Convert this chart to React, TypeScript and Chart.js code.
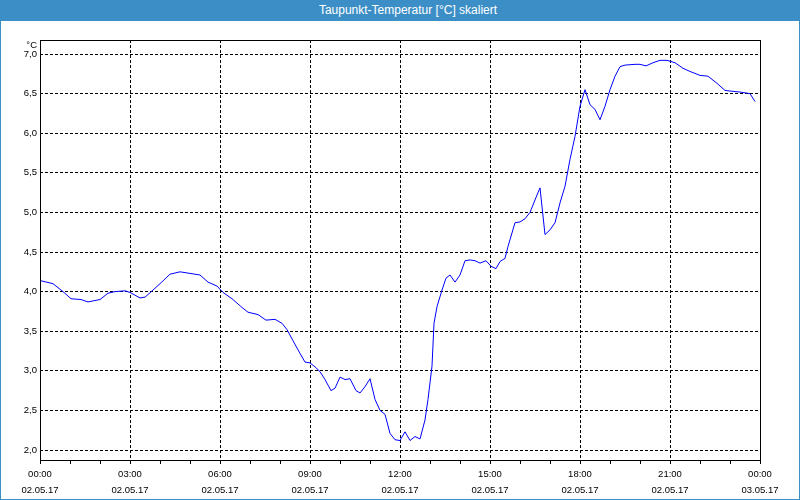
import React, { useEffect, useRef } from 'react';
import { Chart, registerables } from 'chart.js';

Chart.register(...registerables);

const TITLE = 'Taupunkt-Temperatur [°C] skaliert';
const UNIT = '°C';

// minutes since 02.05.17 00:00
const minutes = [
  0, 26, 46, 62, 82, 96, 120, 136, 150, 170, 180, 200, 210, 226, 240, 260, 280, 300, 320, 336,
  354, 366, 384, 404, 416, 436, 452, 470, 484, 494, 506, 520, 530, 540, 550, 560, 570, 582, 590, 600,
  610, 620, 632, 640, 650, 660, 670, 680, 690, 700, 710, 720, 730, 740, 750, 760, 770, 776, 784, 788,
  794, 804, 812, 820, 830, 840, 850, 860, 870, 880, 892, 902, 912, 920, 930, 936, 950, 960, 970, 980,
  994, 1000, 1010, 1020, 1030, 1040, 1050, 1060, 1070, 1080, 1090, 1100, 1110, 1120, 1130, 1140, 1150, 1160, 1170, 1190,
  1200, 1212, 1226, 1240, 1254, 1270, 1286, 1300, 1320, 1336, 1354, 1370, 1384, 1400, 1420, 1430,
];

const dewPoint = [
  4.14, 4.10, 4.00, 3.91, 3.90, 3.87, 3.90, 3.98, 4.00, 4.01, 3.99, 3.92, 3.93, 4.02, 4.10, 4.22, 4.25, 4.23, 4.21, 4.12,
  4.07, 3.99, 3.91, 3.80, 3.74, 3.71, 3.64, 3.65, 3.60, 3.52, 3.38, 3.22, 3.11, 3.10, 3.05, 2.99, 2.89, 2.75, 2.78, 2.92,
  2.89, 2.90, 2.75, 2.72, 2.80, 2.90, 2.64, 2.50, 2.45, 2.21, 2.13, 2.12, 2.23, 2.12, 2.17, 2.14, 2.38, 2.64, 3.06, 3.60,
  3.81, 4.02, 4.17, 4.21, 4.12, 4.21, 4.39, 4.40, 4.39, 4.36, 4.39, 4.32, 4.29, 4.38, 4.42, 4.57, 4.87, 4.88, 4.92, 5.00,
  5.22, 5.31, 4.72, 4.78, 4.87, 5.12, 5.33, 5.67, 5.96, 6.34, 6.55, 6.36, 6.30, 6.17, 6.34, 6.55, 6.72, 6.84, 6.86, 6.87,
  6.87, 6.85, 6.89, 6.92, 6.92, 6.89, 6.82, 6.78, 6.73, 6.72, 6.63, 6.54, 6.53, 6.52, 6.50, 6.40,
];

const yTicks = [2.0, 2.5, 3.0, 3.5, 4.0, 4.5, 5.0, 5.5, 6.0, 6.5, 7.0];
const hourTicks = [
  0, 60, 120, 180, 240, 300, 360, 420, 480, 540, 600, 660, 720,
  780, 840, 900, 960, 1020, 1080, 1140, 1200, 1260, 1320, 1380, 1440,
];
const xLabelMinutes = [0, 180, 360, 540, 720, 900, 1080, 1260, 1440];
const xLabelTimes = ['00:00', '03:00', '06:00', '09:00', '12:00', '15:00', '18:00', '21:00', '00:00'];
const xLabelDates = ['02.05.17', '02.05.17', '02.05.17', '02.05.17', '02.05.17', '02.05.17', '02.05.17', '02.05.17', '03.05.17'];

const Y_MIN = 1.874;
const Y_MAX = 7.177;
const FONT_FAMILY = '"Liberation Sans", Arial, sans-serif';
const BLUE = '#3c8fc6';

export default function App() {
  const canvasRef = useRef<HTMLCanvasElement>(null);

  useEffect(() => {
    document.body.style.margin = '0';
    const canvas = canvasRef.current;
    if (!canvas) return;

    const framePlugin = {
      id: 'frame',
      beforeDraw(chart: any) {
        const ctx = chart.ctx;
        ctx.save();
        ctx.fillStyle = '#ffffff';
        ctx.fillRect(0, 0, chart.width, chart.height);
        ctx.restore();
      },
      afterDraw(chart: any) {
        const { ctx, chartArea: a } = chart;
        ctx.save();
        ctx.fillStyle = '#000000';
        const l = Math.round(a.left);
        const t = Math.round(a.top);
        const r = Math.round(a.right);
        const b = Math.round(a.bottom);
        ctx.fillRect(l, t, r - l + 1, 1);
        ctx.fillRect(l, b, r - l + 1, 1);
        ctx.fillRect(l, t, 1, b - t + 1);
        ctx.fillRect(r, t, 1, b - t + 1);
        ctx.font = '9.5px ' + FONT_FAMILY;
        ctx.textAlign = 'right';
        ctx.textBaseline = 'middle';
        ctx.fillText(UNIT, l - 3, t + 5);
        ctx.fillStyle = BLUE;
        ctx.fillRect(0, 0, 1, chart.height);
        ctx.fillRect(chart.width - 1, 0, 1, chart.height);
        ctx.fillRect(0, chart.height - 1, chart.width, 1);
        ctx.restore();
      },
    };

    const chart = new Chart(canvas, {
      type: 'line',
      data: {
        datasets: [
          {
            data: minutes.map((m, i) => ({ x: m, y: dewPoint[i] })),
            borderColor: '#0000ff',
            borderWidth: 1,
            pointRadius: 0,
            tension: 0,
            fill: false,
          },
        ],
      },
      options: {
        animation: false,
        responsive: false,
        layout: { padding: { top: 40, right: 40, left: 0, bottom: 0 } },
        plugins: { legend: { display: false }, tooltip: { enabled: false }, title: { display: false } },
        scales: {
          x: {
            type: 'linear',
            min: 0,
            max: 1440,
            afterBuildTicks: (s: any) => {
              s.ticks = hourTicks.map((v) => ({ value: v }));
            },
            afterFit: (s: any) => {
              s.height = 40;
            },
            grid: {
              color: (c: any) =>
                c.tick && c.tick.value % 180 === 0 && c.tick.value > 0 && c.tick.value < 1440
                  ? '#000000'
                  : 'rgba(0,0,0,0)',
              tickColor: '#000000',
              tickLength: 4,
              tickBorderDash: [],
              lineWidth: 1,
            },
            border: { display: false, dash: [3, 2] },
            ticks: {
              autoSkip: false,
              maxRotation: 0,
              padding: 2.5,
              color: '#000000',
              font: { family: FONT_FAMILY, size: 9.5, lineHeight: 1.65 },
              callback: (v: any) => {
                const i = xLabelMinutes.indexOf(Number(v));
                return i < 0 ? '' : [xLabelTimes[i], xLabelDates[i]];
              },
            },
          },
          y: {
            min: Y_MIN,
            max: Y_MAX,
            afterBuildTicks: (s: any) => {
              s.ticks = yTicks.map((v) => ({ value: v }));
            },
            afterFit: (s: any) => {
              s.width = 40;
            },
            grid: { color: '#000000', drawTicks: false, tickLength: 0, lineWidth: 1 },
            border: { display: false, dash: [3, 2] },
            ticks: {
              padding: 3,
              color: '#000000',
              font: { family: FONT_FAMILY, size: 9.5 },
              callback: (v: any) => Number(v).toFixed(1).replace('.', ','),
            },
          },
        },
      },
      plugins: [framePlugin],
    } as any);

    return () => chart.destroy();
  }, []);

  return (
    <div style={{ position: 'fixed', left: 0, top: 0, width: 800, height: 500, background: '#ffffff' }}>
      <canvas ref={canvasRef} width={800} height={500} style={{ position: 'absolute', left: 0, top: 0 }} />
      <div
        style={{
          position: 'absolute',
          left: 0,
          top: 0,
          width: 800,
          height: 21,
          boxSizing: 'border-box',
          paddingLeft: 16,
          background: BLUE,
          color: '#ffffff',
          fontFamily: FONT_FAMILY,
          fontSize: 12,
          lineHeight: '21px',
          textAlign: 'center',
        }}
      >
        {TITLE}
      </div>
    </div>
  );
}
